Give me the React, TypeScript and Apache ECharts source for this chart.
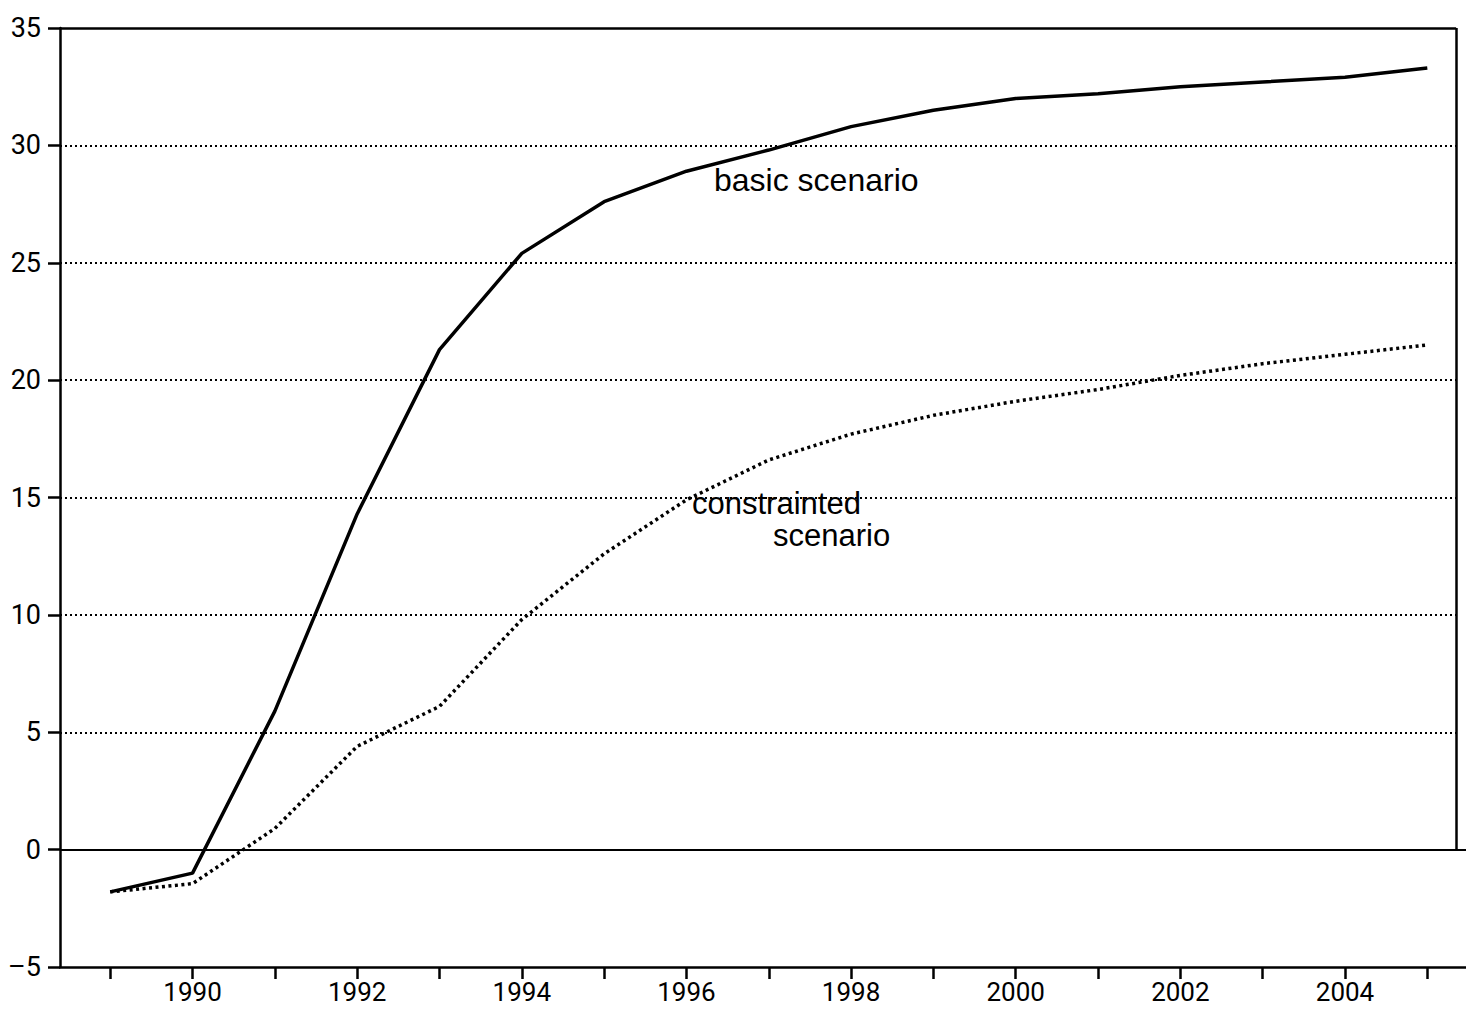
import React, { useEffect, useRef } from "react";
import * as echarts from "echarts";

// Years on the horizontal axis and the two scenario paths
const years = [1989, 1990, 1991, 1992, 1993, 1994, 1995, 1996, 1997, 1998, 1999, 2000, 2001, 2002, 2003, 2004, 2005];
const basicScenario = [-1.8, -1.0, 5.9, 14.3, 21.3, 25.4, 27.6, 28.9, 29.8, 30.8, 31.5, 32.0, 32.2, 32.5, 32.7, 32.9, 33.3];
const constrainedScenario = [-1.8, -1.45, 0.9, 4.4, 6.1, 9.8, 12.6, 14.9, 16.6, 17.7, 18.5, 19.1, 19.6, 20.2, 20.7, 21.1, 21.5];

// Axis ticks and labels
const yearTicks = [1989, 1990, 1991, 1992, 1993, 1994, 1995, 1996, 1997, 1998, 1999, 2000, 2001, 2002, 2003, 2004, 2005];
const yearLabels = [1990, 1992, 1994, 1996, 1998, 2000, 2002, 2004];
const gridValues = [5, 10, 15, 20, 25, 30];

const X_MIN = 1988.39;
const X_MAX = 2005.47;
const FRAME_RIGHT = 2005.35;

const tickFont = "Roboto, 'Liberation Sans', sans-serif";
const textFont = "'Liberation Sans', Arial, sans-serif";

export default function App() {
  const ref = useRef<HTMLDivElement>(null);

  useEffect(() => {
    document.body.style.margin = "0";
    if (!ref.current) return;
    const chart = echarts.init(ref.current, null, { renderer: "svg" });

    const dotted = { color: "#000", width: 2, type: [2, 3] as number[] };
    const solid = { color: "#000", width: 2.5, type: "solid" as const };

    const frameLines: any[] = [
      ...gridValues.map((v) => [
        { coord: [X_MIN, v], lineStyle: dotted },
        { coord: [FRAME_RIGHT, v] },
      ]),
      [{ coord: [X_MIN, 0], lineStyle: { color: "#000", width: 2, type: "solid" } }, { coord: [X_MAX, 0] }],
      [{ coord: [X_MIN, 35], lineStyle: solid }, { coord: [FRAME_RIGHT, 35] }],
      [{ coord: [FRAME_RIGHT, 0], lineStyle: solid }, { coord: [FRAME_RIGHT, 35] }],
    ];

    chart.setOption({
      animation: false,
      backgroundColor: "#fff",
      grid: { left: 60, right: 0, top: 28, bottom: 42, containLabel: false },
      xAxis: {
        type: "value",
        min: X_MIN,
        max: X_MAX,
        axisLine: { show: true, onZero: false, lineStyle: { color: "#000", width: 2.5 } },
        axisTick: {
          show: true,
          customValues: yearTicks,
          length: 12,
          lineStyle: { color: "#000", width: 2.5 },
        },
        axisLabel: {
          customValues: yearLabels,
          color: "#000",
          fontFamily: tickFont,
          fontSize: 26,
          margin: 12,
          formatter: (v: number) => String(Math.round(v)),
        },
        splitLine: { show: false },
      },
      yAxis: {
        type: "value",
        min: -5,
        max: 35,
        interval: 5,
        axisLine: { show: true, onZero: false, lineStyle: { color: "#000", width: 2.5 } },
        axisTick: { show: true, length: 12, lineStyle: { color: "#000", width: 2.5 } },
        axisLabel: {
          color: "#000",
          fontFamily: tickFont,
          fontSize: 27,
          margin: 19,
          formatter: (v: number) => (v < 0 ? "\u2013" + Math.abs(v) : String(v)),
        },
        splitLine: { show: false },
      },
      series: [
        {
          name: "frame",
          type: "line",
          data: [],
          silent: true,
          markLine: {
            silent: true,
            symbol: "none",
            label: { show: false },
            data: frameLines,
          },
        },
        {
          name: "basic scenario",
          type: "line",
          data: years.map((y, i) => [y, basicScenario[i]]),
          symbol: "none",
          lineStyle: { color: "#000", width: 3.5, type: "solid" },
          z: 5,
        },
        {
          name: "constrainted scenario",
          type: "line",
          data: years.map((y, i) => [y, constrainedScenario[i]]),
          symbol: "none",
          lineStyle: { color: "#000", width: 3.5, type: [3, 3.5] },
          z: 5,
        },
      ],
      graphic: [
        {
          type: "text",
          left: 714,
          top: 164,
          style: { text: "basic scenario", font: `32px ${textFont}`, fill: "#000" },
        },
        {
          type: "text",
          left: 692,
          top: 488,
          style: { text: "constrainted", font: `31px ${textFont}`, fill: "#000" },
        },
        {
          type: "text",
          left: 773,
          top: 520,
          style: { text: "scenario", font: `31px ${textFont}`, fill: "#000" },
        },
      ],
    });

    return () => chart.dispose();
  }, []);

  return <div ref={ref} style={{ width: 1466, height: 1009 }} />;
}
